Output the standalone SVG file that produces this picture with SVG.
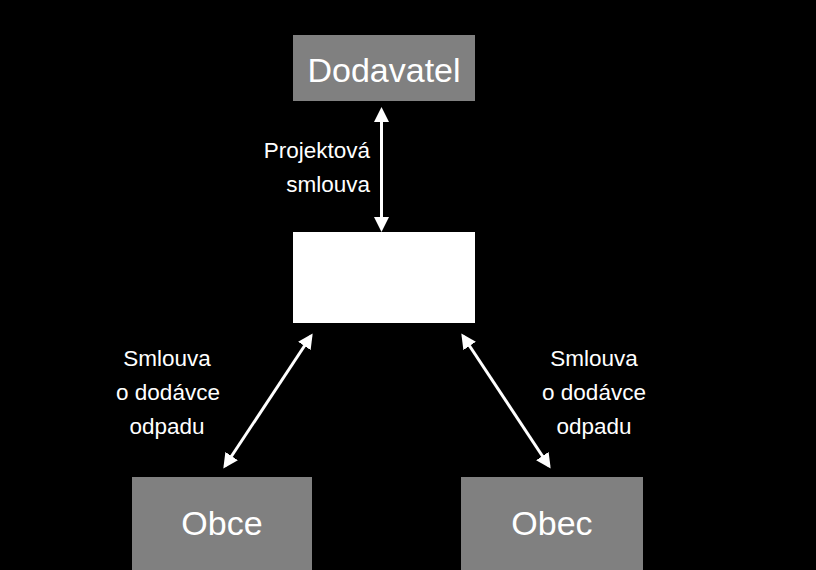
<svg xmlns="http://www.w3.org/2000/svg" width="816" height="570" viewBox="0 0 816 570">
<defs>
<style>
.box{fill:#808080}
.big{font-family:"Liberation Sans",Arial,sans-serif;font-size:34px;fill:#ffffff;text-anchor:middle}
.lbl{font-family:"Liberation Sans",Arial,sans-serif;font-size:22.5px;fill:#ffffff}
.conn{stroke:#ffffff;stroke-width:3;fill:none;marker-start:url(#ah);marker-end:url(#ah)}
</style>
<marker id="ah" viewBox="0 0 10 10" refX="8" refY="5" markerWidth="5" markerHeight="5" orient="auto-start-reverse" markerUnits="strokeWidth">
<path d="M0,0 L10,5 L0,10 z" fill="#ffffff"/>
</marker>
</defs>
<rect x="0" y="0" width="816" height="570" fill="#000000"/>
<g id="node-dodavatel">
<rect class="box" x="293" y="35" width="182" height="66"/>
<text class="big" x="384" y="82">Dodavatel</text>
</g>
<g id="node-center">
<rect x="293" y="232" width="182" height="91" fill="#ffffff"/>
</g>
<g id="node-obce">
<rect class="box" x="132" y="477" width="180" height="93"/>
<text class="big" x="222" y="535">Obce</text>
</g>
<g id="node-obec">
<rect class="box" x="461" y="477" width="182" height="93"/>
<text class="big" x="552" y="535">Obec</text>
</g>
<g id="connectors">
<line class="conn" x1="381.5" y1="110" x2="381.5" y2="229"/>
<line class="conn" x1="311" y1="336" x2="225" y2="466"/>
<line class="conn" x1="463" y1="336" x2="549" y2="466"/>
</g>
<g id="labels">
<text class="lbl" x="370" y="158" text-anchor="end">Projektová</text>
<text class="lbl" x="370" y="192" text-anchor="end">smlouva</text>
<text class="lbl" x="167" y="366" text-anchor="middle">Smlouva</text>
<text class="lbl" x="168" y="400" text-anchor="middle">o dodávce</text>
<text class="lbl" x="167" y="434" text-anchor="middle">odpadu</text>
<text class="lbl" x="594" y="366" text-anchor="middle">Smlouva</text>
<text class="lbl" x="594" y="400" text-anchor="middle">o dodávce</text>
<text class="lbl" x="594" y="434" text-anchor="middle">odpadu</text>
</g>
</svg>
